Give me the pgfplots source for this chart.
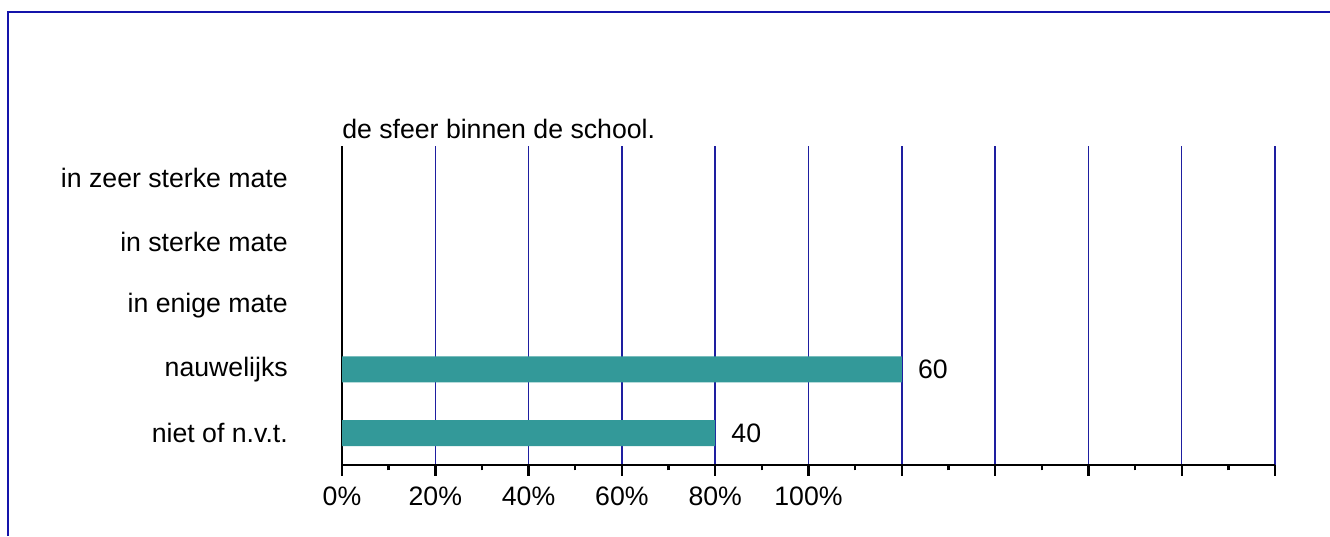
\documentclass[border=0pt]{standalone}
\usepackage{fontspec}
\setmainfont{Liberation Sans}
\usepackage{pgfplots}
\pgfplotsset{compat=1.18}
\definecolor{barteal}{RGB}{51,153,153}
\definecolor{gridblue}{RGB}{30,30,160}
\definecolor{frameblue}{RGB}{20,20,170}

\begin{document}
\fontsize{20}{24}\selectfont
\begin{tikzpicture}
  % page = 1330 x 536 px at 0.75pt per px
  \path[use as bounding box] (0pt,0pt) rectangle (997.5pt,402pt);
  \draw[frameblue, line width=1.8pt] (6pt,0pt) -- (6pt,393pt) -- (997.5pt,393pt);

  \begin{axis}[
    at={(256.5pt,53.25pt)}, anchor=south west,
    scale only axis,
    width=699.75pt, height=239.25pt,
    xmin=0, xmax=100,
    ymin=-0.5, ymax=4.5,
    axis x line=bottom, axis y line=left,
    axis line style={-, black, line width=2pt},
    xtick={0,10,...,100},
    xticklabels={0\%,20\%,40\%,60\%,80\%,100\%,,,,,},
    minor x tick num=1,
    tick align=outside,
    major tick length=8pt,
    minor tick length=4pt,
    x tick style={black, line width=1.8pt},
    xmajorgrids,
    major grid style={gridblue, line width=1.1pt},
    ytick={0,1,2,3,4},
    yticklabels={niet of n.v.t., nauwelijks, in enige mate, in sterke mate, in zeer sterke mate},
    y tick style={draw=none},
    yticklabel style={anchor=east, inner sep=0pt, xshift=-32.5pt},
    xticklabel style={inner sep=0pt, yshift=-8.5pt},
    every tick label/.append style={font=\fontsize{20}{24}\selectfont},
    /pgf/number format/assume math mode=true,
    clip=false,
  ]
    \addplot[xbar, fill=barteal, draw=none, bar width=19.5pt,
      nodes near coords,
      every node near coord/.append style={anchor=west, inner sep=0pt, xshift=12pt, black,
        font=\fontsize{20}{24}\selectfont}]
      coordinates {(40,0) (60,1)};
    \node[anchor=south west, inner sep=0pt] at (rel axis cs:0,1) [yshift=5.5pt] {de sfeer binnen de school.};
  \end{axis}
\end{tikzpicture}
\end{document}
